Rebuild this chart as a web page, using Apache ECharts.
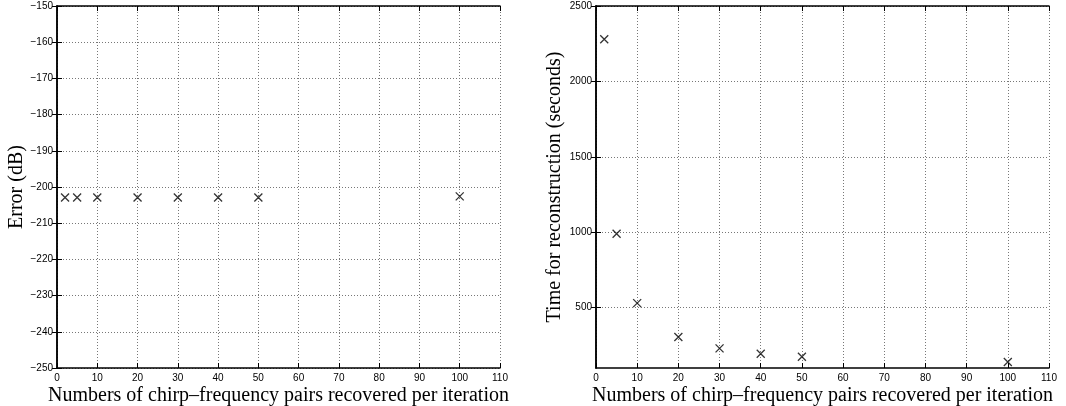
<!DOCTYPE html>
<html>
<head>
<meta charset="utf-8">
<script src="https://cdn.jsdelivr.net/npm/echarts@6/dist/echarts.min.js"></script>
<style>html,body{margin:0;padding:0;background:#fff}#main{width:1066px;height:406px}</style>
</head>
<body>
<div id="main"></div>
<script>
// pairs recovered per iteration
var pairs=[2,5,10,20,30,40,50,100]
var errorDb=[-202.9,-202.9,-202.9,-202.9,-202.9,-202.9,-202.9,-202.6]
var timeSec=[2280,990,530,305,230,195,175,140]
var timeTicks=[500,1000,1500,2000,2500]

var xName='Numbers of chirp\u2013frequency pairs recovered per iteration'
var tickFont={fontFamily:'Liberation Sans',fontSize:10,color:'#000'}
var nameFont={fontFamily:'Liberation Serif',fontSize:20,color:'#000'}
var gridLine={show:true,lineStyle:{color:'#777',type:[1,2],width:1}}
var boxLine={show:true,lineStyle:{color:'#000',width:1.5}}
var inTick={show:true,inside:true,length:5,lineStyle:{color:'#000'}}
var plain=function(v){return String(v).replace('-','\u2212')}

function xAx(grid,top){
    return {
        type:'value',gridIndex:grid,position:top?'top':'bottom',
        min:0,max:110,interval:10,
        axisLine:boxLine,axisTick:inTick,
        axisLabel:top?{show:false}:Object.assign({margin:5,formatter:plain},tickFont),
        splitLine:top?{show:false}:gridLine,
        name:top?'':xName,nameLocation:'middle',nameGap:18,nameMoveOverlap:false,nameTextStyle:nameFont
    }
}

var pts=function(ys){return pairs.map(function(x,i){return [x,ys[i]]})}
var cross='path://M0,0L10,10M10,0L0,10'
var crossStyle={color:'rgba(0,0,0,0)',borderColor:'#000',borderWidth:1.3}

var myChart=echarts.init(document.getElementById('main'))
var option={
    animation:false,
    grid:[
        {left:57,top:6,width:443,height:362,outerBoundsMode:'none',containLabel:false},
        {left:596,top:6,width:453,height:362,outerBoundsMode:'none',containLabel:false}
    ],
    xAxis:[xAx(0,false),xAx(0,true),xAx(1,false),xAx(1,true)],
    yAxis:[
        {
            type:'value',gridIndex:0,min:-250,max:-150,interval:10,
            axisLine:boxLine,axisTick:inTick,
            axisLabel:Object.assign({margin:4,formatter:plain},tickFont),
            splitLine:gridLine,
            name:'Error (dB)',nameLocation:'middle',nameGap:30,nameMoveOverlap:false,nameTextStyle:nameFont
        },
        {
            type:'value',gridIndex:0,position:'right',min:-250,max:-150,interval:10,
            axisLine:boxLine,axisTick:inTick,
            axisLabel:{show:false},splitLine:{show:false}
        },
        {
            type:'value',gridIndex:1,min:100,max:2500,
            axisLine:boxLine,
            axisTick:Object.assign({customValues:timeTicks},inTick),
            axisLabel:Object.assign({margin:4,customValues:timeTicks,formatter:plain},tickFont),
            splitLine:gridLine,
            name:'Time for reconstruction (seconds)',nameLocation:'middle',nameGap:31,nameMoveOverlap:false,nameTextStyle:nameFont
        },
        {
            type:'value',gridIndex:1,position:'right',min:100,max:2500,
            axisLine:boxLine,
            axisTick:Object.assign({customValues:timeTicks},inTick),
            axisLabel:{show:false},splitLine:{show:false}
        }
    ],
    series:[
        {
            type:'scatter',xAxisIndex:0,yAxisIndex:0,data:pts(errorDb),
            symbol:cross,symbolSize:8,itemStyle:crossStyle
        },
        {
            type:'scatter',xAxisIndex:2,yAxisIndex:2,data:pts(timeSec),
            symbol:cross,symbolSize:8,itemStyle:crossStyle
        }
    ]
}
myChart.setOption(option)
</script>
</body>
</html>
